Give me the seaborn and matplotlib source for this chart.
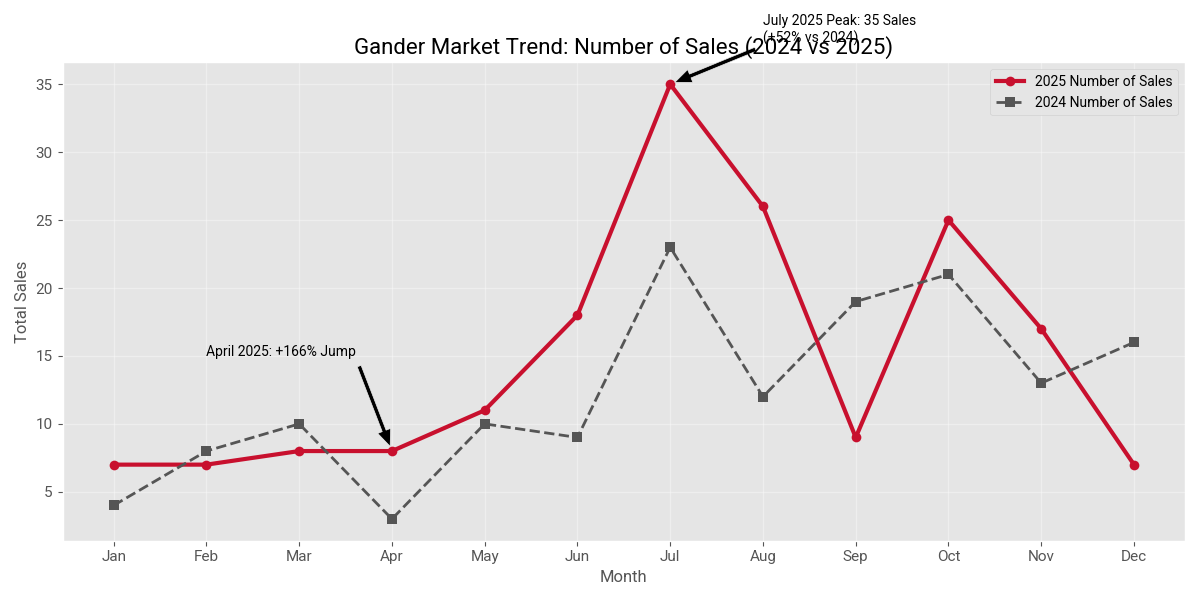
import matplotlib
matplotlib.use("Agg")
import matplotlib.pyplot as plt
import seaborn as sns
import pandas as pd

months = ["Jan", "Feb", "Mar", "Apr", "May", "Jun", "Jul", "Aug", "Sep", "Oct", "Nov", "Dec"]
sales_2025 = [7, 7, 8, 8, 11, 18, 35, 26, 9, 25, 17, 7]
sales_2024 = [4, 8, 10, 3, 10, 9, 23, 12, 19, 21, 13, 16]

plt.style.use("ggplot")
plt.rcParams["font.family"] = ["Roboto", "DejaVu Sans"]

df = pd.DataFrame({"Month": months, "s2025": sales_2025, "s2024": sales_2024})
df["idx"] = range(len(months))

fig, ax = plt.subplots(figsize=(12, 6), dpi=100)

sns.lineplot(data=df, x="idx", y="s2025", ax=ax, color="#C8102E", linewidth=3,
             marker="o", markersize=7, markeredgewidth=0, label="2025 Number of Sales")
sns.lineplot(data=df, x="idx", y="s2024", ax=ax, color="#555555", linewidth=2,
             linestyle="--", marker="s", markersize=7, markeredgewidth=0,
             label="2024 Number of Sales")

ax.grid(True, color="white", alpha=0.35, linewidth=1)
ax.set_xticks(df["idx"])
ax.set_xticklabels(months)
ax.tick_params(labelsize=11)
ax.set_xlabel("Month")
ax.set_ylabel("Total Sales")
ax.set_title("Gander Market Trend: Number of Sales (2024 vs 2025)", color="black",
             fontsize=16)

ax.annotate("July 2025 Peak: 35 Sales\n(+52% vs 2024)", xy=(6, 35), xytext=(7, 37.8),
            va="bottom", ha="left", fontsize=10,
            arrowprops=dict(facecolor="black", shrink=0.05, width=3, headwidth=10),
            annotation_clip=False)
ax.annotate("April 2025: +166% Jump", xy=(3, 8), xytext=(1, 14.8),
            va="bottom", ha="left", fontsize=10,
            arrowprops=dict(facecolor="black", shrink=0.05, width=3, headwidth=10))

ax.legend(loc="upper right")
fig.tight_layout()
fig.savefig("out.png")
